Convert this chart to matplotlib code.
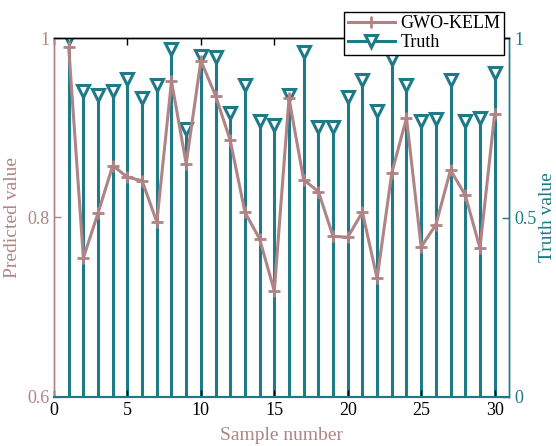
import matplotlib
matplotlib.use("Agg")
import matplotlib.pyplot as plt
from matplotlib.lines import Line2D

samples = list(range(1, 31))
predicted = [0.990, 0.755, 0.805, 0.858, 0.845, 0.841, 0.795, 0.952, 0.860, 0.975,
             0.936, 0.886, 0.806, 0.776, 0.718, 0.933, 0.842, 0.829, 0.779, 0.778,
             0.806, 0.732, 0.850, 0.911, 0.767, 0.792, 0.853, 0.825, 0.766, 0.915]
truth = [1.000, 0.852, 0.842, 0.852, 0.886, 0.833, 0.869, 0.970, 0.747, 0.951,
         0.949, 0.791, 0.869, 0.770, 0.759, 0.843, 0.961, 0.752, 0.752, 0.835,
         0.884, 0.796, 0.942, 0.870, 0.768, 0.775, 0.884, 0.770, 0.778, 0.902]
xticks = [0, 5, 10, 15, 20, 25, 30]
left_ticks = [0.6, 0.8, 1.0]
left_ticklabels = ["0.6", "0.8", "1"]
right_ticks = [0, 0.5, 1]
right_ticklabels = ["0", "0.5", "1"]

rose = "#B08486"
teal = "#1E7A87"

plt.rcParams['font.family'] = ['Liberation Serif', 'DejaVu Serif']

fig = plt.figure(figsize=(5.56, 4.46), dpi=100)
ax = fig.add_axes([54/556, 1-396.7/446, (509.3-54)/556, (396.7-38.3)/446])
ax2 = ax.twinx()

# stems on right axis
ml, sl, bl = ax2.stem(samples, truth, linefmt='-', markerfmt='v', basefmt=' ')
plt.setp(sl, color=teal, linewidth=2.2)
plt.setp(ml, color=teal, markersize=8, markerfacecolor='white',
         markeredgecolor=teal, markeredgewidth=2.2)
ax2.set_ylim(0, 1)
ax2.set_yticks(right_ticks)
ax2.set_yticklabels(right_ticklabels)
ax2.tick_params(axis='y', direction='in', colors=teal, labelsize=13, length=5, width=1)
ax2.set_ylabel("Truth value", color=teal, fontsize=14, labelpad=2)

# line on left axis (drawn above)
ax.set_zorder(ax2.get_zorder() + 1)
ax.patch.set_visible(False)
ax.plot(samples, predicted, '-', color=rose, linewidth=2.2, marker='+',
        markersize=8, markeredgewidth=2.0)
ax.set_xlim(0, 31)
ax.set_ylim(0.6, 1.0)
ax.set_yticks(left_ticks)
ax.set_yticklabels(left_ticklabels)
ax.set_xticks(xticks)
ax.tick_params(axis='y', direction='in', colors=rose, labelsize=13, length=5, width=1)
ax.tick_params(axis='x', direction='in', colors='black', labelsize=13, length=5, width=1,
               top=True)
ax.set_xlabel("Sample number", color=rose, fontsize=14, labelpad=6)
ax.set_ylabel("Predicted value", color=rose, fontsize=14, labelpad=4)

for a in (ax, ax2):
    a.spines['left'].set_color(rose)
    a.spines['right'].set_color(teal)
    a.spines['top'].set_color('black')
    a.spines['bottom'].set_color(teal)
    a.spines['bottom'].set_linewidth(1.5)
    for s in ('left', 'right', 'top'):
        a.spines[s].set_linewidth(1.0)

handles = [Line2D([], [], color=rose, linewidth=2.2, marker='+', markersize=8, markeredgewidth=2.0),
           Line2D([], [], color=teal, linewidth=2.2, marker='v', markersize=8,
                  markerfacecolor='white', markeredgecolor=teal, markeredgewidth=2.2)]
leg = fig.legend(handles, ["GWO-KELM", "Truth"], loc='upper right',
                 bbox_to_anchor=(504/556, 1-11.7/446), borderaxespad=0,
                 fontsize=13, frameon=True, fancybox=False, framealpha=1,
                 edgecolor='black', handlelength=2.6, handletextpad=0.3,
                 borderpad=0.2, labelspacing=0.1)
leg.get_frame().set_linewidth(1.0)

fig.savefig("out.png", dpi=100)
